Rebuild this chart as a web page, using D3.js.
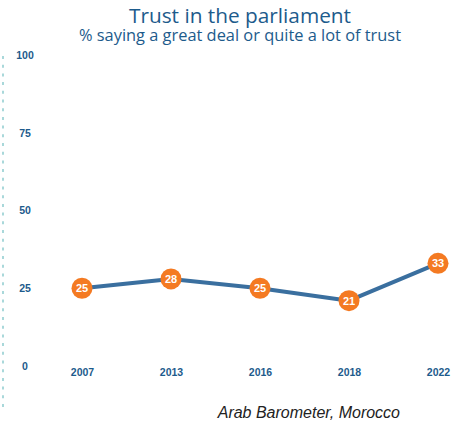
<!DOCTYPE html>
<html>
<head>
<meta charset="utf-8">
<script src="https://cdn.jsdelivr.net/npm/d3@7"></script>
<style>
  html, body { margin: 0; padding: 0; background: #ffffff; }
  svg { display: block; }
</style>
</head>
<body>
<svg id="chart" width="456" height="425"></svg>
<script>
// Survey waves and share expressing trust in parliament
const years = ["2007", "2013", "2016", "2018", "2022"];
const trustValues = [25, 28, 25, 21, 33];
const yTicks = [0, 25, 50, 75, 100];

const titleText = "Trust in the parliament";
const subtitleText = "% saying a great deal or quite a lot of trust";
const sourceText = "Arab Barometer, Morocco";

const svg = d3.select("#chart");

const navy = "#1d5b8c";
const lineBlue = "#3a6f9f";
const orange = "#f47a22";

const x = d3.scalePoint().domain(years).range([82, 438]);
const y = d3.scaleLinear().domain([0, 100]).range([366, 55]);

// Title block
svg.append("text")
  .attr("x", 240).attr("y", 22.5)
  .attr("text-anchor", "middle")
  .attr("font-family", "Open Sans, Lato, sans-serif")
  .attr("font-size", 20.8)
  .attr("fill", navy)
  .text(titleText);

svg.append("text")
  .attr("x", 240).attr("y", 41)
  .attr("text-anchor", "middle")
  .attr("font-family", "Open Sans, Lato, sans-serif")
  .attr("font-size", 16.4)
  .attr("fill", navy)
  .text(subtitleText);

// Dotted rule on the left edge
svg.append("line")
  .attr("x1", 3).attr("x2", 3)
  .attr("y1", 56).attr("y2", 410)
  .attr("stroke", "#a9d8da")
  .attr("stroke-width", 2)
  .attr("stroke-dasharray", "3,5.7");

// Y axis labels (no domain line or ticks)
const yAxis = d3.axisLeft(y).tickValues(yTicks).tickSize(0).tickPadding(0);
const gy = svg.append("g").attr("transform", "translate(25,0)").call(yAxis);
gy.select(".domain").remove();
gy.selectAll("text")
  .attr("text-anchor", "middle")
  .attr("font-family", "Liberation Sans, Arial, sans-serif")
  .attr("font-weight", "bold")
  .attr("font-size", 10.5)
  .attr("fill", navy);

// X axis labels
const xAxis = d3.axisBottom(x).tickSize(0).tickPadding(0);
const gx = svg.append("g").attr("transform", "translate(0,369)").call(xAxis);
gx.select(".domain").remove();
gx.selectAll("text")
  .attr("font-family", "Liberation Sans, Arial, sans-serif")
  .attr("font-weight", "bold")
  .attr("font-size", 10.5)
  .attr("fill", navy);

// Trend line
const pts = years.map((yr, i) => ({ year: yr, value: trustValues[i] }));
const line = d3.line().x(d => x(d.year)).y(d => y(d.value));
svg.append("path")
  .datum(pts)
  .attr("d", line)
  .attr("fill", "none")
  .attr("stroke", lineBlue)
  .attr("stroke-width", 4)
  .attr("stroke-linejoin", "round");

// Value markers
const marks = svg.append("g").selectAll("g").data(pts).join("g")
  .attr("transform", d => `translate(${x(d.year)},${y(d.value)})`);
marks.append("circle")
  .attr("r", 10.5)
  .attr("fill", orange);
marks.append("text")
  .attr("text-anchor", "middle")
  .attr("dy", "0.36em")
  .attr("font-family", "Liberation Sans, Arial, sans-serif")
  .attr("font-weight", "bold")
  .attr("font-size", 11)
  .attr("fill", "#ffffff")
  .text(d => d.value);

// Source note
svg.append("text")
  .attr("x", 400).attr("y", 418)
  .attr("text-anchor", "end")
  .attr("font-family", "Liberation Sans, Arial, sans-serif")
  .attr("font-style", "italic")
  .attr("font-size", 16)
  .attr("fill", "#222222")
  .text(sourceText);
</script>
</body>
</html>
